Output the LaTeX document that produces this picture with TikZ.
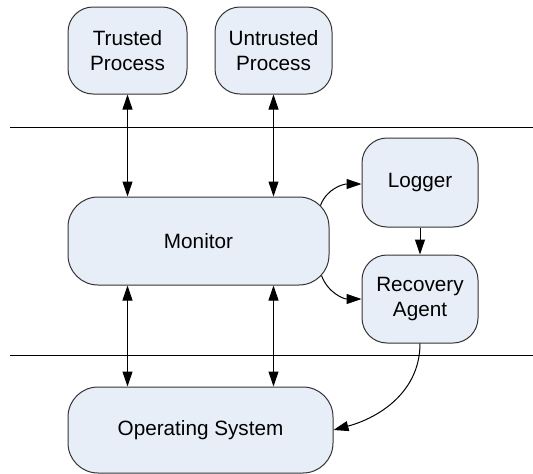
\documentclass[tikz,border=0pt]{standalone}
\usepackage{fontspec}
\setmainfont{Liberation Sans}
\usetikzlibrary{arrows.meta,calc}
\definecolor{boxfill}{HTML}{E8EEF8}
\definecolor{boxline}{HTML}{333333}
\tikzset{
  box/.style={draw=boxline, fill=boxfill, line width=1pt, rounded corners=#1,
    align=center, inner sep=0pt, font=\fontsize{20.7}{25}\selectfont},
  box/.default=25pt,
  conn/.style={draw=black, line width=1pt, -{Triangle[length=15pt,width=10pt]}},
  biconn/.style={draw=black, line width=1pt, {Triangle[length=15pt,width=10pt]}-{Triangle[length=15pt,width=10pt]}},
  sep/.style={draw=black, line width=1pt}
}
\begin{document}
\begin{tikzpicture}[x=1pt,y=-1pt]
\useasboundingbox (0,0) rectangle (533,474);
\node[box, minimum width=119pt, minimum height=87pt] (tp) at (127.5,50.5) {Trusted\\Process};
\node[box, minimum width=117pt, minimum height=87pt] (up) at (273.5,50.5) {Untrusted\\Process};
\node[box, minimum width=116pt, minimum height=89pt] (lg) at (420,182.5) {Logger};
\node[box, minimum width=116pt, minimum height=88pt] (ra) at (420,299) {Recovery\\Agent};
\node[box=30pt, minimum width=261pt, minimum height=88pt] (mon) at (198.5,241) {Monitor};
\node[box=30pt, minimum width=265pt, minimum height=86pt] (os) at (200.5,430) {Operating System};
\coordinate (l1a) at (10,127.7);
\coordinate (l1b) at (533,127.7);
\coordinate (l2a) at (10,355);
\coordinate (l2b) at (533,355);
\draw[sep] (l1a) -- (l1b);
\draw[sep] (l2a) -- (l2b);
\draw[biconn] (tp.south) -- (tp.south |- mon.north);
\draw[biconn] (up.south) -- (up.south |- mon.north);
\draw[biconn] (tp.south |- mon.south) -- (tp.south |- os.north);
\draw[biconn] (up.south |- mon.south) -- (up.south |- os.north);
\draw[conn] ($(mon.north east)+(-9,9)$) to[out=70,in=180] ($(lg.west)+(0,1.5)$);
\draw[conn] ($(mon.south east)+(-8,-10)$) to[out=-70,in=180] (ra.west);
\draw[conn] (lg.south) -- (ra.north);
\draw[conn] (ra.south) to[out=-90,in=15] (os.east);
\end{tikzpicture}
\end{document}
